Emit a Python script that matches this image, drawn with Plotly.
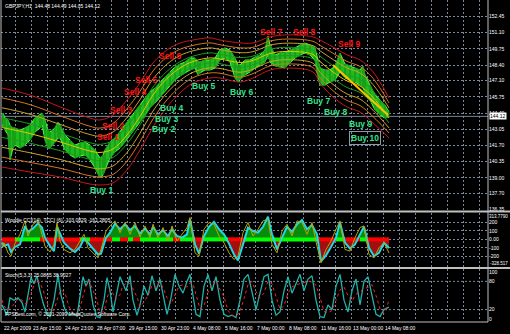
import plotly.graph_objects as go

# ---------------- data ----------------
symbol_title = "GBPJPY,H1  144.48 144.49 144.05 144.12"
last_close = 144.12

# price bars (sampled bar index, high, low)
bar_x = [2, 3, 5, 8, 10, 13, 15, 20, 25, 30, 35, 40, 42, 45, 48, 50, 55, 58, 60, 65,
         70, 75, 80, 85, 90, 95, 100, 103, 105, 110, 115, 120, 125, 130, 135, 140, 145, 150, 155, 160,
         165, 170, 175, 180, 185, 190, 195, 198, 200, 205, 210, 215, 220, 225, 230, 235, 238, 240, 245, 250,
         255, 260, 265, 268, 270, 275, 280, 285, 290, 295, 300, 305, 310, 315, 318, 320, 325, 330, 335, 340,
         345, 350, 355, 360, 363, 365, 370, 375, 380, 385, 389]
bar_high = [144.23, 144.40, 143.98, 143.82, 143.40, 143.15, 143.15, 142.98, 143.15, 143.40, 143.98, 144.23, 144.40, 143.82, 142.98, 142.82, 143.15, 143.65, 143.40, 142.57,
            142.15, 141.73, 141.90, 141.98, 141.73, 141.32, 140.65, 140.90, 141.32, 141.98, 142.32, 142.82, 143.40, 143.98, 144.48, 145.07, 145.65, 146.15, 146.48, 146.98,
            147.40, 147.82, 148.23, 148.48, 148.65, 148.98, 148.98, 148.65, 148.65, 148.82, 148.82, 148.98, 149.65, 149.82, 149.65, 148.98, 148.40, 148.40, 148.82, 148.82,
            149.07, 149.23, 149.65, 150.82, 150.07, 149.23, 149.40, 149.48, 149.65, 149.82, 150.07, 150.23, 150.07, 149.82, 148.82, 148.15, 147.98, 147.98, 148.32, 149.40,
            148.48, 148.32, 148.15, 147.98, 148.32, 147.57, 146.73, 145.90, 145.48, 145.07, 144.49]
bar_low = [143.23, 143.48, 142.98, 142.57, 140.48, 141.48, 141.73, 141.48, 141.73, 142.15, 142.82, 143.15, 143.40, 142.15, 141.48, 141.48, 141.98, 142.32, 142.32, 141.32,
           140.90, 140.65, 140.82, 140.90, 140.48, 139.82, 138.98, 139.23, 139.65, 140.65, 141.15, 141.48, 141.98, 142.57, 143.15, 143.65, 144.23, 144.82, 145.23, 145.73,
           146.15, 146.65, 147.15, 147.48, 147.73, 147.98, 148.15, 147.57, 147.73, 147.98, 147.98, 148.15, 148.82, 148.98, 148.65, 147.32, 146.98, 147.15, 147.57, 147.82,
           148.15, 148.40, 148.65, 149.23, 148.65, 148.32, 148.23, 148.15, 148.57, 148.98, 149.23, 149.40, 149.23, 148.82, 147.32, 146.73, 146.73, 146.98, 147.15, 147.82,
           147.32, 147.15, 146.98, 146.73, 146.48, 146.15, 145.48, 144.65, 144.23, 143.98, 144.05]

# envelope channel (centre line and outer half-width, in price)
band_x = [2, 30, 60, 90, 100, 113, 127, 140, 153, 167, 180, 193, 210, 220, 240, 253, 270, 287, 313, 320, 333, 347, 360, 373, 389]
band_mid = [143.19, 142.69, 141.99, 141.23, 141.11, 141.40, 142.57, 144.11, 145.90, 147.28, 148.15, 148.69, 148.99, 148.90, 148.61, 148.78,
            149.36, 149.53, 149.28, 148.69, 147.82, 147.07, 146.65, 145.70, 143.99]
band_half = [3.29, 3.21, 2.92, 2.75, 2.71, 2.83, 2.92, 2.79, 2.67, 2.38, 2.08, 1.79, 1.67, 1.58, 1.63, 1.46,
             1.38, 1.38, 1.46, 1.79, 2.08, 2.17, 2.17, 2.13, 1.67]

trend_x = [333, 388]
trend_y = [148.40, 144.23]

sell_text = ["Sell 1", "Sell 2", "Sell 3", "Sell 4", "Sell 5", "Sell 6", "Sell 7", "Sell 8", "Sell 9"]
sell_x = [95, 100, 108, 122, 133, 157, 258, 291, 336]
sell_y = [142.40, 143.28, 144.65, 146.19, 147.15, 149.11, 151.19, 151.19, 150.15]
buy_text = ["Buy 1", "Buy 2", "Buy 3", "Buy 4", "Buy 5", "Buy 6", "Buy 7", "Buy 8", "Buy 9", "Buy 10"]
buy_x = [88, 150, 153, 158, 190, 228, 305, 322, 347, 349]
buy_y = [137.98, 143.07, 143.94, 144.78, 146.65, 146.11, 145.40, 144.48, 143.48, 142.28]

price_ticks = [153.80, 152.45, 151.10, 149.75, 148.40, 147.10, 145.75, 144.40, 143.05, 141.70, 140.35, 139.00, 137.70, 136.35]

# Woodie CCI
cci_title = "Woodie CCI(14), TCCI (6) -103.0829 -161.2805"
cci_max_label = "313.7790"
cci_min_label = "-328.517"
cci_levels = [200, 100, 0, -100, -200]
cci_level_text = ["200", "100", "0.00", "-100", "-200"]
cci_x = [2, 4, 8, 11, 15, 20, 25, 28, 33, 38, 42, 45, 50, 54, 57, 60, 64, 70, 75, 80,
         84, 88, 93, 98, 101, 106, 110, 115, 120, 125, 130, 135, 140, 145, 150, 153, 158, 163, 168, 172,
         177, 182, 187, 190, 195, 199, 204, 209, 214, 219, 224, 229, 234, 238, 243, 248, 253, 258, 263, 268,
         272, 277, 282, 287, 292, 297, 302, 307, 312, 317, 321, 326, 331, 336, 340, 345, 350, 355, 360, 364,
         369, 374, 379, 384, 389]
cci_val = [-40, -80, -60, -150, -90, -60, 160, 90, 130, 190, 140, 20, -80, -140, 150, 60, -40, -110, -150, -90,
           10, -40, -110, -180, -170, 20, 80, 190, 120, 180, 110, 160, 70, 130, 60, 150, 60, 110, 40, 120,
           40, 20, 60, 240, -60, -170, 40, 150, 210, 120, 60, -50, -180, -250, -60, 140, 100, 80, 150, 270,
           60, -120, 20, 150, 90, 180, 230, 120, 170, 60, -260, -190, -90, 20, 200, -40, -110, -60, 60, 150,
           -100, -200, -160, -40, -103.08]
tcci_val = [-100, -40, -160, -200, -50, 60, 220, 40, 180, 220, 60, -80, -150, -60, 200, -20, -120, -160, -120, -20,
            60, -100, -160, -220, -120, 100, 160, 220, 80, 200, 60, 200, 30, 160, 20, 180, 20, 140, -20, 160,
            -20, 60, 140, 260, -160, -200, 120, 200, 180, 40, -40, -160, -240, -200, 80, 200, 40, 120, 220, 240,
            -60, -160, 100, 180, 40, 220, 200, 60, 200, -80, -280, -120, -20, 120, 220, -120, -140, 20, 140, 160,
            -180, -220, -100, -40, -161.28]
trend_edges = [2, 15, 40, 80, 90, 112, 120, 128, 133, 140, 173, 180, 195, 204, 228, 245, 318, 336, 345, 360, 366, 389]
trend_state = ["dn", "up", "dn", "up", "dn", "up", "dn", "up", "dn", "up", "dn",
               "up", "dn", "up", "dn", "up", "dn", "up", "dn", "up", "dn"]

# Stochastic
stoch_title = "Stoch(5,3,3) 25.0865 38.9027"
stoch_x = [2, 4, 7, 10, 14, 18, 22, 25, 28, 31, 34, 37, 40, 43, 47, 50, 54, 58, 61, 65,
           69, 73, 77, 80, 83, 86, 89, 93, 97, 100, 104, 107, 110, 113, 116, 120, 123, 126, 130, 133,
           137, 140, 144, 148, 152, 156, 160, 164, 167, 171, 175, 179, 183, 187, 190, 193, 196, 200, 204, 208,
           212, 216, 220, 224, 228, 232, 236, 240, 244, 248, 252, 256, 260, 264, 268, 272, 276, 280, 284, 288,
           292, 296, 300, 304, 308, 312, 316, 320, 324, 328, 332, 336, 340, 344, 348, 352, 356, 360, 364, 368,
           372, 376, 380, 384, 389]
stoch_k = [30, 20, 8, 45, 40, 45, 35, 15, 55, 88, 75, 92, 60, 35, 10, 5, 40, 95, 50, 20,
           8, 12, 6, 50, 90, 70, 85, 30, 5, 3, 40, 88, 60, 15, 50, 90, 75, 60, 92, 40,
           8, 30, 70, 50, 92, 60, 85, 40, 10, 45, 95, 70, 55, 80, 95, 50, 10, 5, 70, 95,
           60, 90, 40, 10, 5, 8, 3, 40, 85, 95, 60, 20, 55, 90, 95, 40, 8, 15, 60, 90,
           55, 75, 95, 60, 85, 92, 40, 5, 3, 30, 20, 70, 95, 40, 15, 60, 85, 30, 80, 90,
           50, 10, 5, 20, 25.09]
stoch_d = [40, 28, 19, 24, 31, 43, 40, 32, 35, 53, 73, 85, 76, 62, 35, 17, 18, 47, 62, 55,
           26, 13, 9, 23, 49, 70, 82, 62, 40, 13, 16, 44, 63, 54, 42, 52, 72, 75, 76, 64,
           47, 26, 36, 50, 71, 67, 79, 62, 45, 32, 50, 70, 73, 68, 77, 75, 52, 22, 28, 57,
           75, 82, 63, 47, 18, 8, 5, 17, 43, 73, 80, 58, 45, 55, 80, 75, 48, 21, 28, 55,
           68, 73, 75, 77, 80, 79, 72, 46, 16, 13, 18, 40, 62, 68, 50, 38, 53, 58, 65, 67,
           73, 50, 22, 12, 38.90]
stoch_levels = [80, 20]
stoch_tick_vals = [100, 80, 20, 0]

date_x = [2, 31, 63, 95, 127, 159, 191, 223, 255, 287, 319, 351, 383]
date_text = ["22 Apr 2009", "23 Apr 15:00", "24 Apr 23:00", "28 Apr 07:00", "29 Apr 15:00", "30 Apr 23:00",
             "4 May 08:00", "5 May 16:00", "7 May 00:00", "8 May 08:00", "11 May 16:00", "13 May 00:00", "14 May 08:00"]
copyright_text = "FPSBest.com, \u00a9 2001-2009 MetaQuotes Software Corp."

# ---------------- figure ----------------
GRID = "#778899"
FONT = "Liberation Sans, Arial, sans-serif"
fig = go.Figure()

# price range fill + bar zigzag
fig.add_trace(go.Scatter(x=bar_x, y=bar_low, mode="lines", line=dict(width=0, color="#1DB51D"),
                         hoverinfo="skip"))
fig.add_trace(go.Scatter(x=bar_x, y=bar_high, mode="lines", fill="tonexty", fillcolor="#1FBA1F",
                         line=dict(width=1, color="#44FF44"), hoverinfo="skip"))
fig.add_trace(go.Scatter(x=bar_x, y=bar_low, mode="lines", line=dict(width=1, color="#44FF44"),
                         hoverinfo="skip"))
zx, zy = [], []
for i, (x, h, l) in enumerate(zip(bar_x, bar_high, bar_low)):
    zx += [x, x]
    zy += ([l, h] if i % 2 == 0 else [h, l])
fig.add_trace(go.Scatter(x=zx, y=zy, mode="lines", line=dict(width=0.8, color="#0B7F0B"), hoverinfo="skip"))

# envelope lines
band_styles = [(1.0, "#C8161C"), (0.75, "#D9731E"), (0.5, "#C9A227"), (0.25, "#1F9A1F")]
for frac, col in band_styles:
    for sgn in (1, -1):
        fig.add_trace(go.Scatter(x=band_x, y=[m + sgn * frac * h for m, h in zip(band_mid, band_half)],
                                 mode="lines", line=dict(width=1, color=col, shape="spline", smoothing=1.0),
                                 hoverinfo="skip"))
fig.add_trace(go.Scatter(x=band_x, y=band_mid, mode="lines",
                         line=dict(width=1, color="#E8C400", shape="spline", smoothing=1.0), hoverinfo="skip"))
fig.add_trace(go.Scatter(x=trend_x, y=trend_y, mode="lines", line=dict(width=2, color="#FFC000"),
                         hoverinfo="skip"))

# CCI panel
fig.add_trace(go.Scatter(x=cci_x, y=[max(v, 0) for v in cci_val], yaxis="y2", mode="lines",
                         line=dict(width=0), fill="tozeroy", fillcolor="#0A8A0A", hoverinfo="skip"))
fig.add_trace(go.Scatter(x=cci_x, y=[min(v, 0) for v in cci_val], yaxis="y2", mode="lines",
                         line=dict(width=0), fill="tozeroy", fillcolor="#A01010", hoverinfo="skip"))
for state, col in (("up", "#00FF00"), ("dn", "#FF0000")):
    sx, sy = [], []
    for a, b, s in zip(trend_edges[:-1], trend_edges[1:], trend_state):
        if s == state:
            sx += [a, b, None]
            sy += [0, 0, None]
    fig.add_trace(go.Scatter(x=sx, y=sy, yaxis="y2", mode="lines", line=dict(width=4, color=col),
                             hoverinfo="skip"))
fig.add_trace(go.Scatter(x=cci_x, y=cci_val, yaxis="y2", mode="lines", line=dict(width=2, color="#1ED8E8"),
                         hoverinfo="skip"))
fig.add_trace(go.Scatter(x=cci_x, y=tcci_val, yaxis="y2", mode="lines", line=dict(width=1, color="#B8A400"),
                         hoverinfo="skip"))

# Stochastic panel
fig.add_trace(go.Scatter(x=stoch_x, y=stoch_k, yaxis="y3", mode="lines", line=dict(width=1.3, color="#20B2AA"),
                         hoverinfo="skip"))
fig.add_trace(go.Scatter(x=stoch_x, y=stoch_d, yaxis="y3", mode="lines",
                         line=dict(width=1, color="#FF2020", dash="dot"), hoverinfo="skip"))

shapes = []
# bid line
shapes.append(dict(type="line", xref="paper", x0=0, x1=1, yref="y", y0=last_close, y1=last_close,
                   line=dict(color=GRID, width=1), layer="below"))
for lv in stoch_levels:
    shapes.append(dict(type="line", xref="paper", x0=0, x1=1, yref="y3", y0=lv, y1=lv,
                       line=dict(color=GRID, width=1, dash="2px,2px"), layer="below"))
# panel separators and frame
for yp in (0.3432, 0.1677):
    shapes.append(dict(type="line", xref="paper", x0=0, x1=1.07, yref="paper", y0=yp, y1=yp,
                       line=dict(color="#C0C0C0", width=2)))
shapes.append(dict(type="line", xref="paper", x0=1, x1=1, yref="paper", y0=0, y1=1,
                   line=dict(color="#C0C0C0", width=1)))
shapes.append(dict(type="line", xref="paper", x0=0, x1=0, yref="paper", y0=0, y1=1,
                   line=dict(color="#C0C0C0", width=1)))
shapes.append(dict(type="line", xref="paper", x0=0, x1=1, yref="paper", y0=0, y1=0,
                   line=dict(color="#C0C0C0", width=1)))

ann = []
small = dict(family=FONT, size=5, color="white")
tiny = dict(family=FONT, size=4.5, color="white")
ann.append(dict(text=symbol_title, xref="paper", yref="paper", x=0.004, y=1, xanchor="left", yanchor="top",
                yshift=-1, showarrow=False, font=small))
ann.append(dict(text=cci_title, xref="paper", yref="y2 domain", x=0.004, y=1, xanchor="left", yanchor="top",
                yshift=-2, showarrow=False, font=small))
ann.append(dict(text=stoch_title, xref="paper", yref="y3 domain", x=0.004, y=1, xanchor="left", yanchor="top",
                yshift=-1, showarrow=False, font=small))
ann.append(dict(text=copyright_text, xref="paper", yref="paper", x=0.004, y=0, xanchor="left", yanchor="bottom",
                yshift=3, showarrow=False, font=small))
ann.append(dict(text=cci_max_label, xref="paper", yref="y2 domain", x=1, y=1, xanchor="left", yanchor="top",
                xshift=-1, yshift=1, showarrow=False, font=tiny))
ann.append(dict(text=cci_min_label, xref="paper", yref="y2 domain", x=1, y=0, xanchor="left", yanchor="bottom",
                xshift=0, yshift=-1, showarrow=False, font=tiny))
ann.append(dict(text=f"{last_close:.2f}", xref="paper", yref="y", x=1, y=last_close, xanchor="left",
                yanchor="middle", xshift=1, showarrow=False, bgcolor="white", borderpad=0,
                font=dict(family=FONT, size=5, color="black")))
for xv, t in zip(date_x, date_text):
    ann.append(dict(text=t, xref="x", yref="paper", x=xv, y=0, xanchor="left", yanchor="top",
                    yshift=-1, showarrow=False, font=small))
for t, xv, yv in zip(sell_text, sell_x, sell_y):
    ann.append(dict(text=f"<b>{t}</b>", xref="x", yref="y", x=xv, y=yv, xanchor="left", yanchor="middle",
                    showarrow=False, font=dict(family=FONT, size=8.5, color="#FF1414")))
for t, xv, yv in zip(buy_text, buy_x, buy_y):
    extra = dict(bordercolor="#8A9AA8", borderwidth=1, borderpad=1) if t == "Buy 10" else {}
    ann.append(dict(text=f"<b>{t}</b>", xref="x", yref="y", x=xv, y=yv, xanchor="left", yanchor="middle",
                    showarrow=False, font=dict(family=FONT, size=8.5, color="#33E38A"), **extra))

axis_common = dict(side="right", anchor="x", zeroline=False, ticks="", showline=False,
                   tickfont=small, fixedrange=True)
fig.update_layout(
    width=510, height=334,
    margin=dict(l=1, r=22, t=0, b=12),
    paper_bgcolor="black", plot_bgcolor="black",
    showlegend=False,
    font=small,
    xaxis=dict(range=[1, 488], tick0=383, dtick=16, showgrid=True, gridcolor=GRID, griddash="2px,2px",
               gridwidth=1, showticklabels=False, zeroline=False, ticks="", showline=False, fixedrange=True),
    yaxis=dict(domain=[0.3463, 1], range=[136.275, 153.817], tickvals=price_ticks,
               ticktext=[f"{v:.2f}" for v in price_ticks], showgrid=True, gridcolor=GRID,
               griddash="2px,2px", **axis_common),
    yaxis2=dict(domain=[0.1708, 0.3385], range=[-328.517, 313.779], tickvals=cci_levels,
                ticktext=cci_level_text, showgrid=True, gridcolor=GRID, griddash="2px,2px", **axis_common),
    yaxis3=dict(domain=[0.0031, 0.1646], range=[-4.3, 106.4], tickvals=stoch_tick_vals,
                ticktext=[str(v) for v in stoch_tick_vals], showgrid=False, **axis_common),
    shapes=shapes,
    annotations=ann,
)

fig.write_html("out.html")
